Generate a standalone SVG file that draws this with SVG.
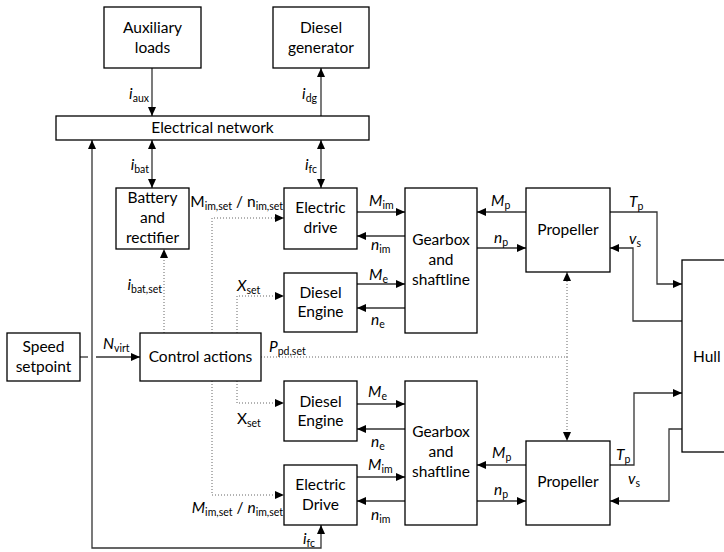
<svg xmlns="http://www.w3.org/2000/svg" width="724" height="552" viewBox="0 0 724 552">
  <style>
    .box { fill: #fff; stroke: #000; stroke-width: 1.3; }
    .t { font-family: Lato, "Liberation Sans", sans-serif; font-size: 15.5px; fill: #000; }
    .c { text-anchor: middle; }
    .e { text-anchor: end; }
    .i { font-style: italic; }
    .s { font-size: 10.5px; }
    .w { stroke: #333; stroke-width: 1.3; fill: none; }
    .d { stroke: #666; stroke-width: 1; stroke-dasharray: 1 2; fill: none; }
  </style>
  <defs>
    <marker id="ah" viewBox="0 0 9 8" refX="9" refY="4" markerWidth="9" markerHeight="8" markerUnits="userSpaceOnUse" orient="auto-start-reverse">
      <path d="M0,0 L9,4 L0,8 z" fill="#000"/>
    </marker>
  </defs>

  <!-- connectors -->
  <g id="connectors">
    <!-- electrical side -->
    <path class="w" d="M152,68 V116" marker-end="url(#ah)"/>
    <path class="w" d="M321,116 V68" marker-end="url(#ah)"/>
    <path class="w" d="M152,140 V188" marker-start="url(#ah)" marker-end="url(#ah)"/>
    <path class="w" d="M321,140 V188" marker-start="url(#ah)" marker-end="url(#ah)"/>
    <path class="w" d="M321,525 V548 H92 V140" marker-start="url(#ah)" marker-end="url(#ah)"/>
    <!-- speed setpoint to control -->
    <path class="w" d="M80,357 H88"/>
    <path class="w" d="M96,357 H140" marker-end="url(#ah)"/>
    <!-- control signals (dotted) -->
    <path class="d" d="M164,333 V249" marker-end="url(#ah)"/>
    <path class="d" d="M212,333 V218 H284" marker-end="url(#ah)"/>
    <path class="d" d="M237,333 V296 H284" marker-end="url(#ah)"/>
    <path class="d" d="M237,381 V403 H284" marker-end="url(#ah)"/>
    <path class="d" d="M212,381 V495 H284" marker-end="url(#ah)"/>
    <path class="d" d="M261,357 H567"/>
    <path class="d" d="M567,357 V272" marker-end="url(#ah)"/>
    <path class="d" d="M567,357 V441" marker-end="url(#ah)"/>
    <!-- upper shaftline -->
    <path class="w" d="M357,212 H405" marker-end="url(#ah)"/>
    <path class="w" d="M405,236 H357" marker-end="url(#ah)"/>
    <path class="w" d="M357,284 H405" marker-end="url(#ah)"/>
    <path class="w" d="M405,308 H357" marker-end="url(#ah)"/>
    <path class="w" d="M526,212 H477" marker-end="url(#ah)"/>
    <path class="w" d="M477,248 H526" marker-end="url(#ah)"/>
    <path class="w" d="M610,212 H657 V284 H682" marker-end="url(#ah)"/>
    <path class="w" d="M682,321 H633 V248 H610" marker-end="url(#ah)"/>
    <!-- lower shaftline -->
    <path class="w" d="M357,404 H405" marker-end="url(#ah)"/>
    <path class="w" d="M405,429 H357" marker-end="url(#ah)"/>
    <path class="w" d="M357,477 H405" marker-end="url(#ah)"/>
    <path class="w" d="M405,501 H357" marker-end="url(#ah)"/>
    <path class="w" d="M526,465 H477" marker-end="url(#ah)"/>
    <path class="w" d="M477,501 H526" marker-end="url(#ah)"/>
    <path class="w" d="M610,465 H634 V393 H682" marker-end="url(#ah)"/>
    <path class="w" d="M682,429 H669 V501 H610" marker-end="url(#ah)"/>

    <!-- connector labels -->
    <text class="t e" x="149" y="99"><tspan class="i">i</tspan><tspan class="s" dy="3">aux</tspan></text>
    <text class="t e" x="317" y="99"><tspan class="i">i</tspan><tspan class="s" dy="3">dg</tspan></text>
    <text class="t e" x="149" y="170"><tspan class="i">i</tspan><tspan class="s" dy="3">bat</tspan></text>
    <text class="t e" x="317" y="170"><tspan class="i">i</tspan><tspan class="s" dy="3">fc</tspan></text>
    <text class="t e" x="315" y="544"><tspan class="i">i</tspan><tspan class="s" dy="3">fc</tspan></text>
    <text class="t e" x="162" y="290"><tspan class="i">i</tspan><tspan class="s" dy="3">bat,set</tspan></text>
    <text class="t e" x="283" y="207">M<tspan class="s" dy="3">im,set</tspan><tspan dy="-3"> / n</tspan><tspan class="s" dy="3">im,set</tspan></text>
    <text class="t e" x="283" y="513"><tspan class="i">M</tspan><tspan class="s" dy="3">im,set</tspan><tspan dy="-3"> / </tspan><tspan class="i">n</tspan><tspan class="s" dy="3">im,set</tspan></text>
    <text class="t" x="237" y="291"><tspan class="i">X</tspan><tspan class="s" dy="3">set</tspan></text>
    <text class="t" x="237" y="424">X<tspan class="s" dy="3">set</tspan></text>
    <text class="t" x="103" y="349"><tspan class="i">N</tspan><tspan class="s" dy="3">virt</tspan></text>
    <text class="t" x="269" y="352"><tspan class="i">P</tspan><tspan class="s" dy="3">pd,set</tspan></text>

    <text class="t" x="369" y="206"><tspan class="i">M</tspan><tspan class="s" dy="3">im</tspan></text>
    <text class="t" x="371" y="250"><tspan class="i">n</tspan><tspan class="s" dy="3">im</tspan></text>
    <text class="t" x="369" y="280"><tspan class="i">M</tspan><tspan class="s" dy="3">e</tspan></text>
    <text class="t" x="371" y="325"><tspan class="i">n</tspan><tspan class="s" dy="3">e</tspan></text>
    <text class="t" x="368" y="397"><tspan class="i">M</tspan><tspan class="s" dy="3">e</tspan></text>
    <text class="t" x="371" y="447"><tspan class="i">n</tspan><tspan class="s" dy="3">e</tspan></text>
    <text class="t" x="368" y="470"><tspan class="i">M</tspan><tspan class="s" dy="3">im</tspan></text>
    <text class="t" x="371" y="520"><tspan class="i">n</tspan><tspan class="s" dy="3">im</tspan></text>

    <text class="t" x="491" y="206"><tspan class="i">M</tspan><tspan class="s" dy="3">p</tspan></text>
    <text class="t" x="494" y="243"><tspan class="i">n</tspan><tspan class="s" dy="3">p</tspan></text>
    <text class="t" x="492" y="458"><tspan class="i">M</tspan><tspan class="s" dy="3">p</tspan></text>
    <text class="t" x="494" y="495"><tspan class="i">n</tspan><tspan class="s" dy="3">p</tspan></text>

    <text class="t" x="629" y="207"><tspan class="i">T</tspan><tspan class="s" dy="3">p</tspan></text>
    <text class="t" x="629" y="244"><tspan class="i">v</tspan><tspan class="s" dy="3">s</tspan></text>
    <text class="t" x="616" y="460"><tspan class="i">T</tspan><tspan class="s" dy="3">p</tspan></text>
    <text class="t" x="628" y="484"><tspan class="i">v</tspan><tspan class="s" dy="3">s</tspan></text>
  </g>

  <!-- nodes -->
  <g id="aux-loads">
    <rect class="box" x="104" y="7" width="97" height="61"/>
    <text class="t c" x="152.5" y="33">Auxiliary</text>
    <text class="t c" x="152.5" y="53">loads</text>
  </g>
  <g id="diesel-generator">
    <rect class="box" x="273" y="7" width="96" height="61"/>
    <text class="t c" x="321" y="33">Diesel</text>
    <text class="t c" x="321" y="53">generator</text>
  </g>
  <g id="electrical-network">
    <rect class="box" x="56" y="116" width="313" height="24"/>
    <text class="t c" x="212.5" y="133">Electrical network</text>
  </g>
  <g id="battery">
    <rect class="box" x="116" y="188" width="73" height="61"/>
    <text class="t c" x="152.5" y="203">Battery</text>
    <text class="t c" x="152.5" y="223">and</text>
    <text class="t c" x="152.5" y="243">rectifier</text>
  </g>
  <g id="electric-drive-1">
    <rect class="box" x="284" y="188" width="73" height="61"/>
    <text class="t c" x="320.5" y="213">Electric</text>
    <text class="t c" x="320.5" y="233">drive</text>
  </g>
  <g id="diesel-engine-1">
    <rect class="box" x="284" y="273" width="73" height="59"/>
    <text class="t c" x="320.5" y="298">Diesel</text>
    <text class="t c" x="320.5" y="317">Engine</text>
  </g>
  <g id="speed-setpoint">
    <rect class="box" x="7" y="333" width="73" height="48"/>
    <text class="t c" x="43.5" y="352">Speed</text>
    <text class="t c" x="43.5" y="372">setpoint</text>
  </g>
  <g id="control-actions">
    <rect class="box" x="140" y="333" width="121" height="48"/>
    <text class="t c" x="200.5" y="362">Control actions</text>
  </g>
  <g id="gearbox-1">
    <rect class="box" x="405" y="188" width="72" height="145"/>
    <text class="t c" x="441" y="245">Gearbox</text>
    <text class="t c" x="441" y="265">and</text>
    <text class="t c" x="441" y="285">shaftline</text>
  </g>
  <g id="propeller-1">
    <rect class="box" x="526" y="188" width="84" height="84"/>
    <text class="t c" x="568" y="235">Propeller</text>
  </g>
  <g id="hull">
    <rect class="box" x="682" y="260" width="60" height="192"/>
    <text class="t" x="693" y="362">Hull</text>
  </g>
  <g id="diesel-engine-2">
    <rect class="box" x="284" y="381" width="73" height="60"/>
    <text class="t c" x="320.5" y="407">Diesel</text>
    <text class="t c" x="320.5" y="426">Engine</text>
  </g>
  <g id="electric-drive-2">
    <rect class="box" x="284" y="465" width="73" height="60"/>
    <text class="t c" x="320.5" y="490">Electric</text>
    <text class="t c" x="320.5" y="510">Drive</text>
  </g>
  <g id="gearbox-2">
    <rect class="box" x="405" y="381" width="72" height="144"/>
    <text class="t c" x="441" y="437">Gearbox</text>
    <text class="t c" x="441" y="457">and</text>
    <text class="t c" x="441" y="477">shaftline</text>
  </g>
  <g id="propeller-2">
    <rect class="box" x="526" y="441" width="84" height="84"/>
    <text class="t c" x="568" y="487">Propeller</text>
  </g>
</svg>
